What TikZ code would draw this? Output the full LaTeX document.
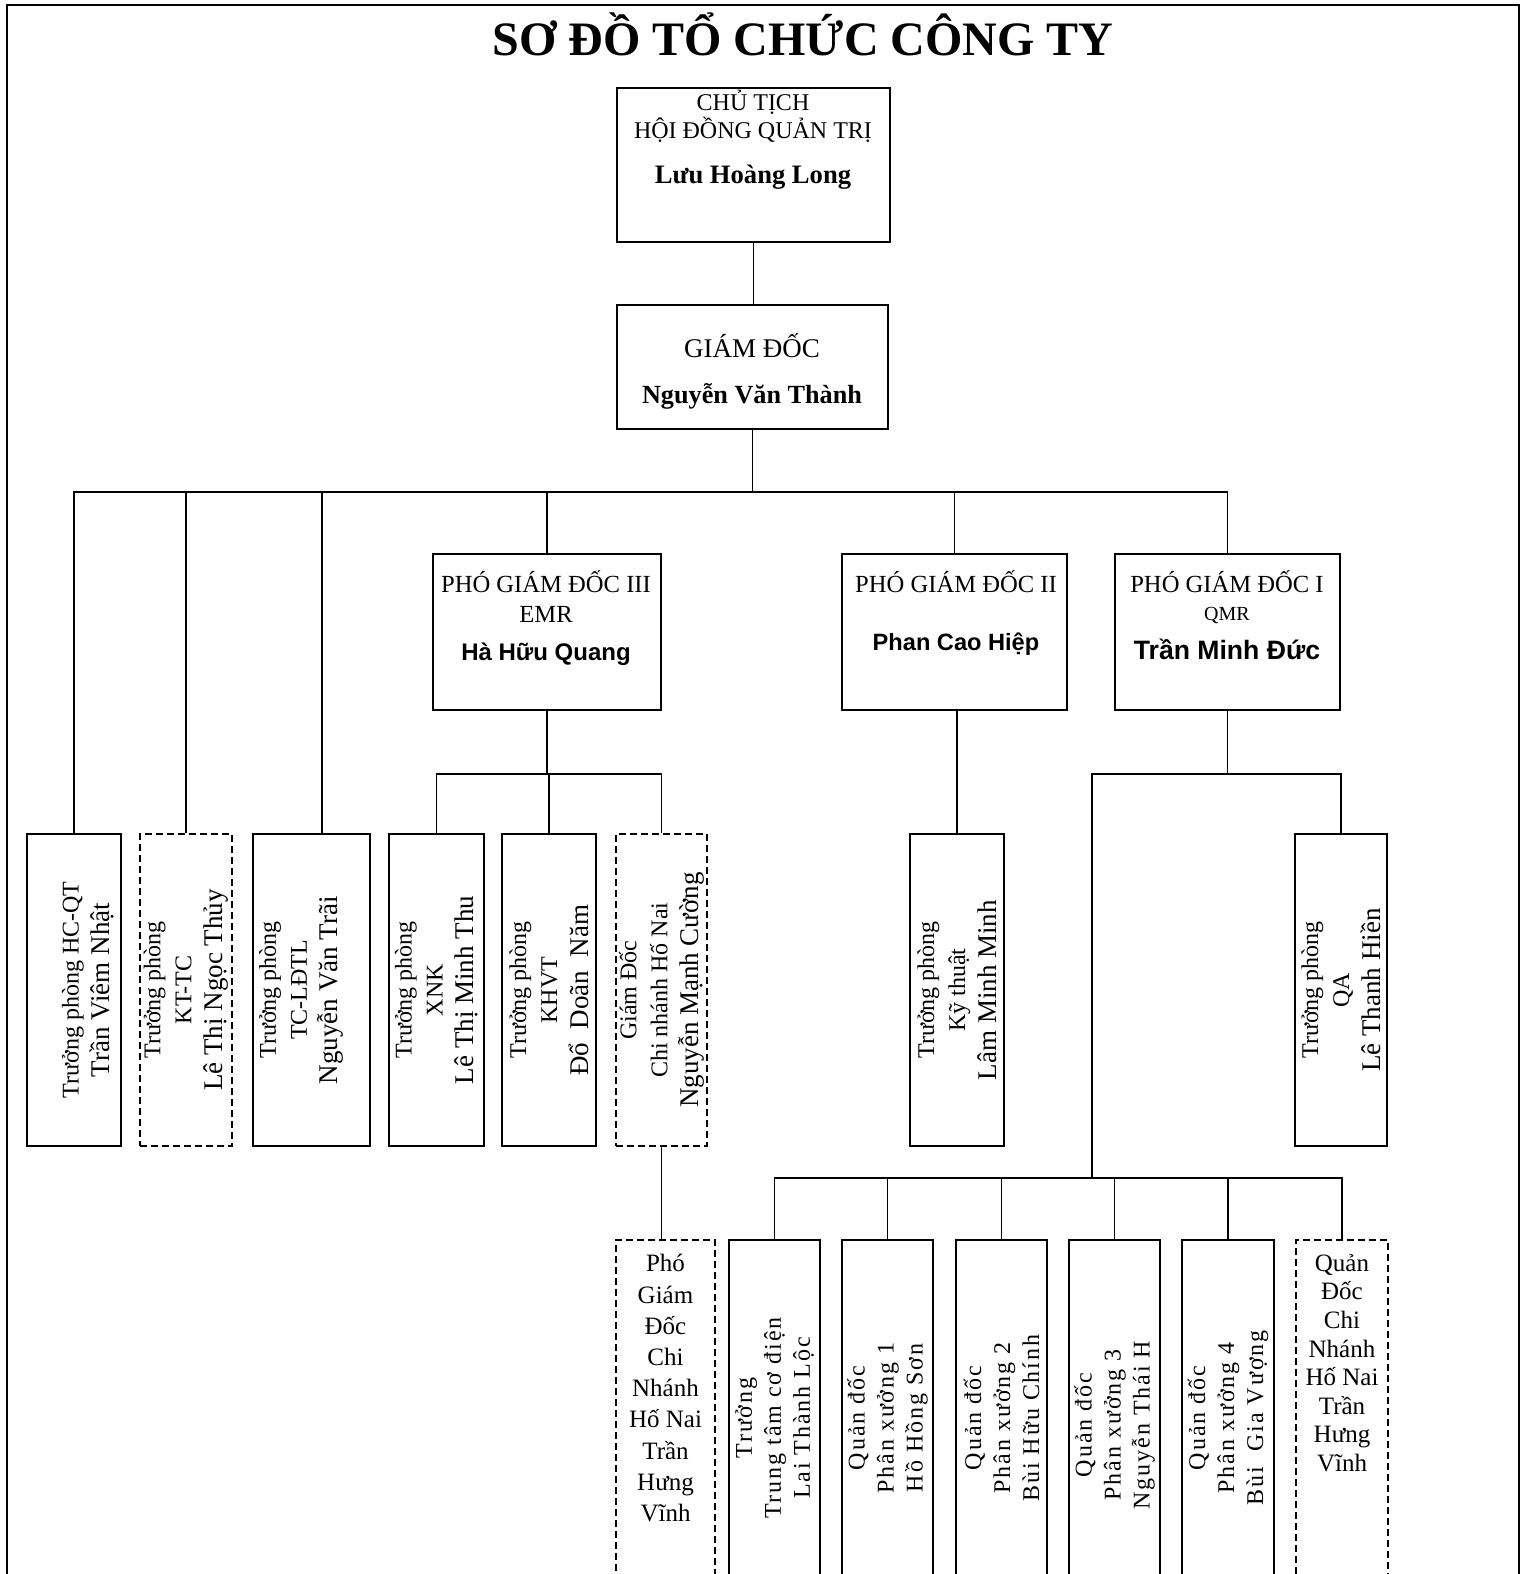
\documentclass[tikz,border=0pt]{standalone}
\usepackage{fontspec}
\setmainfont{Liberation Serif}
\newfontfamily\arialfont{Liberation Sans}
\newfontfamily\spacedfont[LetterSpace=8]{Liberation Serif}

\newcommand{\nm}{\fontsize{13.5}{15}\selectfont}

\tikzset{
	box/.style={draw, line width=1pt, inner sep=0pt},
	dbox/.style={box, dash pattern=on 3.5pt off 2pt},
	link/.style={line width=0.9pt},
	htxt/.style={inner sep=0pt, align=center, anchor=north},
	vtxt/.style={inner sep=0pt, align=center, rotate=90, font=\fontsize{12}{15.5}\selectfont},
	stxt/.style={inner sep=0pt, align=center, rotate=90, font=\spacedfont\fontsize{12}{14.5}\selectfont},
}

\begin{document}
\begin{tikzpicture}[x=0.5pt,y=-0.5pt]
	\useasboundingbox (0,0) rectangle (1527,1574);
	\clip (0,0) rectangle (1527,1574);
	\draw[line width=1.4pt] (7,1620) |- (1519,5) -- (1519,1620);

	\node[anchor=base, inner sep=0pt, font=\bfseries\fontsize{24}{29}\selectfont] (title) at (803,55) {SƠ ĐỒ TỔ CHỨC CÔNG TY};

	% top levels
	\node[box, minimum width=136.5pt, minimum height=77pt] (ct) at (753.5,165) {};
	\node[box, minimum width=135.5pt, minimum height=62pt] (gd) at (752.5,367) {};
	\node[box, minimum width=114pt, minimum height=78pt] (pgd3) at (547,632) {};
	\node[box, line width=0.6pt, minimum width=112.5pt, minimum height=78pt] (pgd2) at (954.5,632) {};
	\node[box, minimum width=112.5pt, minimum height=78pt] (pgd1) at (1227.5,632) {};

	\node[htxt, font=\fontsize{12}{14}\selectfont] (ct-t) at (753,90) {CHỦ TỊCH\\HỘI ĐỒNG QUẢN TRỊ\\[8.5pt]{\bfseries\fontsize{13.3}{14}\selectfont Lưu Hoàng Long}};
	\node[htxt, font=\fontsize{13.5}{16}\selectfont] (gd-t) at (752,333) {GIÁM ĐỐC\\[7pt]{\bfseries\fontsize{13.1}{16}\selectfont Nguyễn Văn Thành}};
	\node[htxt, font=\fontsize{12.3}{15}\selectfont] (pgd3-t) at (546,570) {PHÓ GIÁM ĐỐC III\\EMR\\[4pt]{\arialfont\bfseries\fontsize{12}{15}\selectfont Hà Hữu Quang}};
	\node[htxt, font=\fontsize{12.3}{15}\selectfont] (pgd2-t) at (956,570) {PHÓ GIÁM ĐỐC II\\[14pt]{\arialfont\bfseries\fontsize{11.8}{15}\selectfont Phan Cao Hiệp}};
	\node[htxt, font=\fontsize{12.3}{15}\selectfont] (pgd1-t) at (1227,570) {PHÓ GIÁM ĐỐC I\\[-1pt]{\fontsize{10}{15}\selectfont QMR}\\[4.5pt]{\arialfont\bfseries\fontsize{13.3}{15}\selectfont Trần Minh Đức}};

	% phong ban
	\node[box, minimum width=47pt, minimum height=156pt] (b1) at (74,990) {};
	\node[dbox, minimum width=46pt, minimum height=156pt] (b2) at (186,990) {};
	\node[box, minimum width=58.5pt, minimum height=156pt] (b3) at (311.5,990) {};
	\node[box, minimum width=47.5pt, minimum height=156pt] (b4) at (436.5,990) {};
	\node[box, minimum width=47pt, minimum height=156pt] (b5) at (549,990) {};
	\node[dbox, minimum width=45.5pt, minimum height=156pt] (b6) at (661.5,990) {};
	\node[box, minimum width=47pt, minimum height=156pt] (b7) at (957,990) {};
	\node[box, minimum width=46pt, minimum height=156pt] (b8) at (1341,990) {};

	\node[vtxt] (b1-t) at ([xshift=7pt]b1.center) {Trưởng phòng HC-QT\\{\nm Trần Viêm Nhật}};
	\node[vtxt] (b2-t) at (b2.center) {Trưởng phòng\\KT-TC\\{\nm Lê Thị Ngọc Thủy}};
	\node[vtxt] (b3-t) at ([xshift=-5pt]b3.center) {Trưởng phòng\\TC-LĐTL\\{\nm Nguyễn Văn Trãi}};
	\node[vtxt] (b4-t) at (b4.center) {Trưởng phòng\\XNK\\{\nm Lê Thị Minh Thu}};
	\node[vtxt] (b5-t) at (b5.center) {Trưởng phòng\\KHVT\\{\nm Đổ~~Doãn~~Năm}};
	\node[vtxt] (b6-t) at (b6.center) {Giám Đốc\\Chi nhánh Hố Nai\\{\nm Nguyễn Mạnh Cường}};
	\node[vtxt] (b7-t) at (b7.center) {Trưởng phòng\\Kỹ thuật\\{\nm Lâm Minh Minh}};
	\node[vtxt] (b8-t) at (b8.center) {Trưởng phòng\\QA\\{\nm Lê Thanh Hiền}};

	% phan xuong
	\node[dbox, minimum width=49.5pt, minimum height=190pt] (c0) at (665.5,1430) {};
	\node[box, minimum width=45.5pt, minimum height=190pt] (c1) at (774.5,1430) {};
	\node[box, minimum width=45.5pt, minimum height=190pt] (c2) at (887.5,1430) {};
	\node[box, minimum width=45.5pt, minimum height=190pt] (c3) at (1001.5,1430) {};
	\node[box, minimum width=45.5pt, minimum height=190pt] (c4) at (1114.5,1430) {};
	\node[box, minimum width=46pt, minimum height=190pt] (c5) at (1228,1430) {};
	\node[dbox, minimum width=46pt, minimum height=190pt] (c6) at (1342,1430) {};

	\node[htxt, font=\fontsize{12.5}{15.6}\selectfont] (c0-t) at (665.5,1254) {Phó\\Giám\\Đốc\\Chi\\Nhánh\\Hố Nai\\Trần\\Hưng\\Vĩnh};
	\node[stxt] (c1-t) at (774.5,1418) {Trưởng\\Trung tâm cơ điện\\Lai Thành Lộc};
	\node[stxt] (c2-t) at (887.5,1418) {Quản đốc\\Phân xưởng 1\\Hồ Hồng Sơn};
	\node[stxt] (c3-t) at (1001.5,1418) {Quản đốc\\Phân xưởng 2\\Bùi Hữu Chính};
	\node[stxt] (c4-t) at (1114.5,1425) {Quản đốc\\Phân xưởng 3\\Nguyễn Thái H};
	\node[stxt] (c5-t) at (1228,1418) {Quản đốc\\Phân xưởng 4\\Bùi~~Gia Vượng};
	\node[htxt, font=\fontsize{12.5}{14.3}\selectfont] (c6-t) at (1342,1254) {Quản\\Đốc\\Chi\\Nhánh\\Hố Nai\\Trần\\Hưng\\Vĩnh};

	% connectors
	\draw[link] (ct.south) -- (ct.south |- gd.north);
	\foreach \n in {b1,b2,pgd3,pgd2,pgd1}
		\draw[link] (gd.south) -- ++(0,62) -| (\n.north);
	\draw[link] (gd.south) -- ++(0,62) -| ([xshift=5.25pt]b3.north);
	\foreach \n in {b4,b5,b6}
		\draw[link] (pgd3.south) -- ++(0,63) -| (\n.north);
	\draw[link] (b7.north |- pgd2.south) -- (b7.north);
	\draw[link] (pgd1.south) -- ++(0,63) -| (b8.north);
	\coordinate (lb) at (1092,1178);
	\draw[link] (pgd1.south) -- ++(0,63) -| (lb);
	\foreach \n in {c1,c2,c3,c4,c5,c6}
		\draw[link] (lb) -| (\n.north);
	\draw[link] (b6.south) -- (b6.south |- c0.north);
\end{tikzpicture}
\end{document}
